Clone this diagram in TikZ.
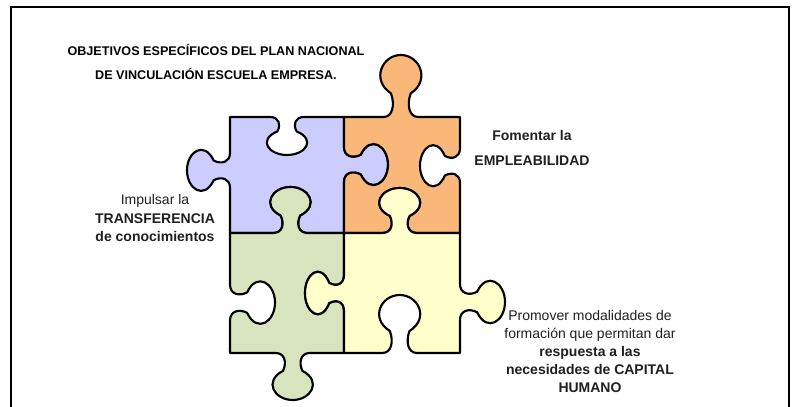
\documentclass[tikz,border=0pt]{standalone}
\usepackage{fontspec}
\setmainfont{Liberation Sans}
\usetikzlibrary{calc}
\definecolor{piecePurple}{HTML}{CCCCFF}
\definecolor{pieceOrange}{HTML}{FAB77A}
\definecolor{pieceGreen}{HTML}{D7E4BD}
\definecolor{pieceYellow}{HTML}{FFFFCC}

\begin{document}
\begin{tikzpicture}[x=0.75pt,y=-0.75pt,
  jig/.style 2 args={to path={
    -- ($(\tikztostart)!{#2-.15}!(\tikztotarget)$)
    .. controls ($(\tikztostart)!{#2-.07}!(\tikztotarget)$)
       and ($(\tikztostart)!{#2-.05}!(\tikztotarget)!{.2*(#1)*.75pt}!90:(\tikztotarget)$)
    .. ($(\tikztostart)!{#2-.085}!(\tikztotarget)!{.38*(#1)*.75pt}!90:(\tikztotarget)$)
    .. controls ($(\tikztostart)!{#2-.26}!(\tikztotarget)!{.6*(#1)*.75pt}!90:(\tikztotarget)$)
       and ($(\tikztostart)!{#2-.16}!(\tikztotarget)!{(#1)*.75pt}!90:(\tikztotarget)$)
    .. ($(\tikztostart)!{#2}!(\tikztotarget)!{(#1)*.75pt}!90:(\tikztotarget)$)
    .. controls ($(\tikztostart)!{#2+.16}!(\tikztotarget)!{(#1)*.75pt}!90:(\tikztotarget)$)
       and ($(\tikztostart)!{#2+.26}!(\tikztotarget)!{.6*(#1)*.75pt}!90:(\tikztotarget)$)
    .. ($(\tikztostart)!{#2+.085}!(\tikztotarget)!{.38*(#1)*.75pt}!90:(\tikztotarget)$)
    .. controls ($(\tikztostart)!{#2+.05}!(\tikztotarget)!{.2*(#1)*.75pt}!90:(\tikztotarget)$)
       and ($(\tikztostart)!{#2+.07}!(\tikztotarget)$)
    .. ($(\tikztostart)!{#2+.15}!(\tikztotarget)$)
    -- (\tikztotarget)}},
  piece/.style={draw=black,line width=1.6pt,line join=round},
  frame line/.style={draw=black,line width=1.5pt},
  title text/.style={align=center,inner sep=0pt,font=\bfseries\fontsize{9.45}{18}\selectfont},
  side text/.style={align=center,inner sep=0pt,text=black!88,font=\fontsize{10.5}{13.7}\selectfont}]
\useasboundingbox (0,0) rectangle (794,407);
\draw[frame line] (11,407) -- (11,7) -- (789,7) -- (789,407);

\coordinate (c00) at (230,117);
\coordinate (c10) at (344,117);
\coordinate (c20) at (460,117);
\coordinate (c01) at (230,233);
\coordinate (c11) at (344,233);
\coordinate (c21) at (460,233);
\coordinate (c02) at (230,353);
\coordinate (c12) at (344,353);
\coordinate (c22) at (460,353);

% puzzle pieces
\draw[piece,fill=piecePurple] (c00) to[jig={-38}{.5}] (c10) to[jig={44}{.41}] (c11)
  to[jig={-46}{.47}] (c01) to[jig={43}{.54}] (c00) -- cycle;
\draw[piece,fill=pieceOrange] (c10) to[jig={62}{.49}] (c20) to[jig={-40}{.42}] (c21)
  to[jig={-45}{.52}] (c11) to[jig={-44}{.59}] (c10) -- cycle;
\draw[piece,fill=pieceGreen] (c01) to[jig={46}{.53}] (c11) to[jig={-39}{.5}] (c12)
  to[jig={47}{.45}] (c02) to[jig={-45}{.42}] (c01) -- cycle;
\draw[piece,fill=pieceYellow] (c11) to[jig={45}{.48}] (c21) to[jig={45}{.575}] (c22)
  to[jig={-58}{.52}] (c12) to[jig={39}{.5}] (c11) -- cycle;

% texts
\node[title text] (title) at (216,62) {OBJETIVOS ESPECÍFICOS DEL PLAN NACIONAL\\DE VINCULACIÓN ESCUELA EMPRESA.};
\node[side text,font=\bfseries\fontsize{10.5}{18.75}\selectfont] (empleo) at (532,148) {Fomentar la\\EMPLEABILIDAD};
\node[side text] (transfer) at (155,218) {Impulsar la\\\textbf{TRANSFERENCIA}\\\textbf{de conocimientos}};
\node[side text,font=\fontsize{10.5}{13.5}\selectfont] (capital) at (590,351) {Promover modalidades de\\formación que permitan dar\\\textbf{respuesta a las}\\\textbf{necesidades de CAPITAL}\\\textbf{HUMANO}};
\end{tikzpicture}
\end{document}
